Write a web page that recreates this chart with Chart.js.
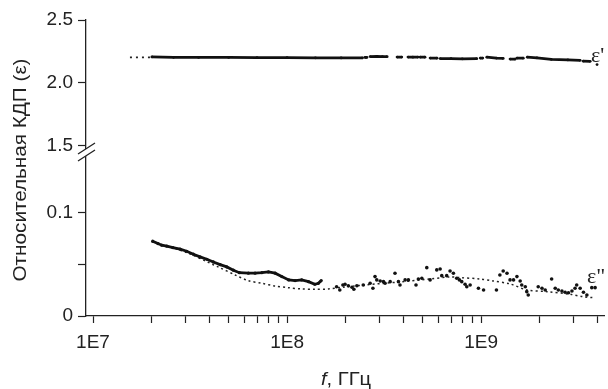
<!DOCTYPE html>
<html lang="ru">
<head>
<meta charset="utf-8">
<title>Относительная КДП</title>
<style>
    html, body { margin: 0; padding: 0; background: #fff; }
    #wrap { width: 608px; height: 389px; position: relative; }
</style>
</head>
<body>
<div id="wrap"><canvas id="myChart"></canvas></div>
<script src="https://cdn.jsdelivr.net/npm/chart.js@4.4.0/dist/chart.umd.min.js"></script>
<script>
    // ось X (частота), логарифмическая
    var xTickValues = [1e7, 2e7, 3e7, 4e7, 5e7, 6e7, 7e7, 8e7, 9e7,
        1e8, 2e8, 3e8, 4e8, 5e8, 6e8, 7e8, 8e8, 9e8,
        1e9, 2e9, 3e9, 4e9];
    var xTickLabels = ['1E7', '', '', '', '', '', '', '', '',
        '1E8', '', '', '', '', '', '', '', '',
        '1E9', '', '', ''];
    // разорванная ось Y
    var yTopTicks = [1.5, 1.75, 2.0, 2.25, 2.5];
    var yTopLabels = ['1.5', '', '2.0', '', '2.5'];
    var yBotTicks = [0, 0.05, 0.1];
    var yBotLabels = ['0', '', '0.1'];

    // ε' (null = разрыв в данных)
    var epsPrimeF = [2.01e7, 2.6e7, 3.5e7, 5e7, 7e7, 1.0e8, 1.4e8, 1.9e8, 2.45e8, 2.49e8,
        2.52e8, 2.58e8, 2.63e8, 2.68e8, 2.9e8, 3.1e8, 3.28e8, 3.5e8, 3.69e8, 3.9e8, 4.05e8,
        4.2e8, 4.45e8, 4.73e8, 4.8e8, 4.85e8, 5.14e8, 5.3e8, 5.46e8, 5.93e8, 6.05e8,
        6.15e8, 7e8, 8e8, 9.5e8, 9.7e8, 9.9e8, 1.02e9, 1.05e9, 1.07e9, 1.2e9, 1.3e9, 1.36e9,
        1.41e9, 1.5e9, 1.52e9, 1.53e9, 1.65e9, 1.69e9, 1.73e9, 1.94e9, 2.3e9, 2.8e9, 3.24e9, 3.3e9,
        3.36e9, 3.65e9, 3.8e9, 3.96e9];
    var epsPrimeV = [2.207, 2.204, 2.203, 2.203, 2.202, 2.201, 2.200, 2.199, 2.200, null,
        2.203, 2.203, null, 2.210, 2.211, 2.210, 2.209, null, 2.206, 2.206, null,
        2.206, 2.205, 2.206, null, 2.205, 2.205, null, 2.198, 2.197, null,
        2.194, 2.193, 2.192, 2.193, null, 2.198, 2.198, null, 2.205, 2.198, 2.195, null,
        2.190, 2.190, null, 2.198, 2.197, null, 2.205, 2.200, 2.188, 2.183, 2.180, null,
        2.173, 2.172, null, 2.146];
    var epsPrimeFitF = [1.55e7, 2.05e7];
    var epsPrimeFitV = [2.203, 2.203];

    // ε'' — плотный участок
    var eps2DenseF = [2.03e7, 2.16e7, 2.26e7, 2.40e7, 2.58e7, 2.81e7, 3.04e7, 3.29e7, 3.56e7,
        3.86e7, 4.17e7, 4.52e7, 4.89e7, 5.29e7, 5.68e7, 6.32e7, 6.84e7, 7.41e7, 8.02e7,
        8.68e7, 9.39e7, 1.02e8, 1.10e8, 1.19e8, 1.29e8, 1.39e8, 1.45e8, 1.50e8];
    var eps2DenseV = [0.0725, 0.0702, 0.0686, 0.0677, 0.0663, 0.0648, 0.0628, 0.0599, 0.0573,
        0.0550, 0.0524, 0.0498, 0.0476, 0.0444, 0.0420, 0.0415, 0.0415, 0.0420, 0.0427,
        0.0415, 0.0382, 0.0350, 0.0343, 0.0350, 0.0333, 0.0308, 0.0317, 0.0343];
    // ε'' — отдельные точки
    var eps2PtsF = [1.80e8, 1.87e8, 1.94e8, 1.99e8, 2.07e8, 2.16e8, 2.21e8, 2.29e8, 2.47e8,
        2.68e8, 2.77e8, 2.84e8, 2.90e8, 3.02e8, 3.14e8, 3.20e8, 3.40e8, 3.60e8, 3.75e8,
        3.82e8, 4.06e8, 4.22e8, 4.62e8, 4.75e8, 4.95e8, 5.25e8, 5.46e8, 5.91e8, 6.15e8,
        6.27e8, 6.65e8, 6.92e8, 7.20e8, 7.49e8, 7.73e8, 7.95e8, 8.27e8, 8.44e8, 8.78e8,
        9.69e8, 1.03e9, 1.20e9, 1.25e9, 1.30e9, 1.36e9, 1.41e9, 1.47e9, 1.53e9, 1.59e9,
        1.62e9, 1.69e9, 1.72e9, 1.75e9, 1.97e9, 2.06e9, 2.14e9, 2.31e9, 2.41e9, 2.50e9,
        2.61e9, 2.71e9, 2.82e9, 2.94e9, 3.05e9, 3.11e9, 3.24e9, 3.37e9, 3.51e9, 3.72e9, 3.87e9];
    var eps2PtsV = [0.0284, 0.0252, 0.0301, 0.0308, 0.0294, 0.0279, 0.0259, 0.0294, 0.0301,
        0.0317, 0.0269, 0.0382, 0.0350, 0.0340, 0.0333, 0.0317, 0.0333, 0.0415, 0.0333,
        0.0301, 0.0350, 0.0350, 0.0301, 0.0359, 0.0366, 0.0469, 0.0350, 0.0447, 0.0456,
        0.0391, 0.0391, 0.0437, 0.0415, 0.0366, 0.0350, 0.0333, 0.0308, 0.0284, 0.0301,
        0.0269, 0.0252, 0.0252, 0.0398, 0.0437, 0.0415, 0.0350, 0.0350, 0.0382, 0.0340,
        0.0301, 0.0284, 0.0236, 0.0204, 0.0284, 0.0269, 0.0252, 0.0359, 0.0269, 0.0252,
        0.0243, 0.0230, 0.0226, 0.0243, 0.0269, 0.0301, 0.0269, 0.0230, 0.0204, 0.0275, 0.0275];
    // ε'' — аппроксимация (пунктир)
    var eps2FitF = [2.0e7, 2.98e7, 4.41e7, 5.4e7, 6.3e7, 7.43e7, 8.67e7, 1.01e8, 1.19e8, 1.39e8,
        1.63e8, 1.99e8, 2.52e8, 3.82e8, 5.46e8, 6.92e8, 7.8e8, 9.9e8, 1.15e9, 1.41e9,
        1.73e9, 2.19e9, 2.87e9, 3.36e9, 3.78e9];
    var eps2FitV = [0.0723, 0.0621, 0.0476, 0.0398, 0.0343, 0.0317, 0.0291, 0.0275, 0.0262, 0.0259,
        0.0262, 0.0282, 0.0301, 0.0330, 0.0359, 0.0379, 0.0372, 0.0359, 0.0340, 0.0311,
        0.0252, 0.0236, 0.0211, 0.0187, 0.0178];

    function pairs(fs, vs) {
        return fs.map(function (f, i) { return { x: f, y: vs[i] }; });
    }

    var ink = '#111';
    var fontSans = 'Liberation Sans';

    // разрыв оси, подписи осей и кривых
    var decorPlugin = {
        id: 'decor',
        afterDraw: function (chart) {
            var ctx = chart.ctx;
            var ax = chart.scales.x.left;
            var yB = chart.scales.yBot.top;
            ctx.save();
            // знак разрыва «//»
            ctx.fillStyle = '#fff';
            ctx.beginPath();
            ctx.moveTo(ax - 8, yB + 2);
            ctx.lineTo(ax + 9, yB - 9);
            ctx.lineTo(ax + 9, yB - 2);
            ctx.lineTo(ax - 8, yB + 9);
            ctx.closePath();
            ctx.fill();
            ctx.strokeStyle = '#222';
            ctx.lineWidth = 1.3;
            ctx.beginPath();
            ctx.moveTo(ax - 8, yB + 2); ctx.lineTo(ax + 9, yB - 9);
            ctx.moveTo(ax - 8, yB + 9); ctx.lineTo(ax + 9, yB - 2);
            ctx.stroke();

            ctx.fillStyle = '#222';
            // подпись оси Y
            ctx.save();
            ctx.translate(21, (chart.chartArea.top + chart.chartArea.bottom) / 2 + 2);
            ctx.rotate(-Math.PI / 2);
            ctx.scale(1.15, 1);
            ctx.font = '18px "' + fontSans + '"';
            ctx.textAlign = 'center';
            ctx.textBaseline = 'middle';
            ctx.fillText('Относительная КДП (ε)', 0, 0);
            ctx.restore();

            // подпись оси X: курсивная f
            ctx.save();
            ctx.textBaseline = 'alphabetic';
            ctx.textAlign = 'left';
            ctx.font = 'italic 18px "' + fontSans + '"';
            var w1 = ctx.measureText('f').width;
            ctx.font = '18px "' + fontSans + '"';
            var w2 = ctx.measureText(', ГГц').width;
            var sx = 1.12;
            var x0 = 346 - (w1 + w2) * sx / 2;
            ctx.translate(x0, 385);
            ctx.scale(sx, 1);
            ctx.font = 'italic 18px "' + fontSans + '"';
            ctx.fillText('f', 0, 0);
            ctx.font = '18px "' + fontSans + '"';
            ctx.fillText(', ГГц', w1, 0);
            ctx.restore();

            // ε' и ε''
            ctx.font = '22px "Liberation Serif"';
            ctx.textAlign = 'left';
            ctx.textBaseline = 'alphabetic';
            ctx.fillText("ε'", 591, 62);
            ctx.fillText('ε"', 587, 283);
            ctx.restore();
        }
    };

    var tickFont = { family: fontSans, size: 19 };

    var ctx = document.getElementById('myChart').getContext('2d');
    var myChart = new Chart(ctx, {
        type: 'line',
        data: {
            datasets: [{
                label: "ε'",
                data: pairs(epsPrimeF, epsPrimeV),
                yAxisID: 'yTop',
                borderColor: ink,
                backgroundColor: ink,
                borderWidth: 2.8,
                pointRadius: 1.4,
                pointBorderWidth: 0,
                spanGaps: false
            }, {
                label: "ε''",
                data: pairs(eps2DenseF, eps2DenseV),
                yAxisID: 'yBot',
                borderColor: ink,
                backgroundColor: ink,
                borderWidth: 2.8,
                pointRadius: 1.6,
                pointBorderWidth: 0
            }, {
                label: "ε'' точки",
                data: pairs(eps2PtsF, eps2PtsV),
                yAxisID: 'yBot',
                showLine: false,
                backgroundColor: ink,
                borderColor: ink,
                pointRadius: 1.8,
                pointBorderWidth: 0
            }, {
                label: "ε' аппрокс.",
                data: pairs(epsPrimeFitF, epsPrimeFitV),
                yAxisID: 'yTop',
                borderColor: '#222',
                borderWidth: 1.6,
                borderDash: [2, 4],
                pointRadius: 0
            }, {
                label: "ε'' аппрокс.",
                data: pairs(eps2FitF, eps2FitV),
                yAxisID: 'yBot',
                borderColor: '#222',
                borderWidth: 1.5,
                borderDash: [2, 3],
                pointRadius: 0,
                tension: 0.3
            }]
        },
        options: {
            responsive: true,
            maintainAspectRatio: false,
            animation: false,
            devicePixelRatio: 1,
            layout: { padding: { left: 0, right: 4, top: 20, bottom: 0 } },
            plugins: { legend: { display: false }, tooltip: { enabled: false } },
            scales: {
                x: {
                    type: 'logarithmic',
                    position: 'bottom',
                    min: 9.2e6,
                    max: 4.3e9,
                    afterBuildTicks: function (s) { s.ticks = xTickValues.map(function (v) { return { value: v }; }); },
                    afterFit: function (s) { s.height = 73; },
                    ticks: {
                        autoSkip: false, maxRotation: 0, minRotation: 0, padding: 8,
                        color: '#222', font: tickFont,
                        callback: function (v, i) { return xTickLabels[i]; }
                    },
                    grid: { drawOnChartArea: false, drawTicks: true, tickLength: 7, color: '#222', tickWidth: 1.2 },
                    border: { display: true, color: '#222', width: 1.3 }
                },
                // нижняя часть объявлена первой: в стопке слева порядок обратный
                yBot: {
                    type: 'linear',
                    position: 'left',
                    stack: 'y',
                    stackWeight: 164,
                    min: 0,
                    max: 0.159,
                    afterBuildTicks: function (s) { s.ticks = yBotTicks.map(function (v) { return { value: v }; }); },
                    afterFit: function (s) { s.width = 86; },
                    ticks: {
                        padding: 5, color: '#222', font: tickFont,
                        callback: function (v, i) { return yBotLabels[i]; }
                    },
                    grid: { drawOnChartArea: false, drawTicks: true, tickLength: 8, color: '#222', tickWidth: 1.2 },
                    border: { display: true, color: '#222', width: 1.3 }
                },
                yTop: {
                    type: 'linear',
                    position: 'left',
                    stack: 'y',
                    stackWeight: 132,
                    min: 1.452,
                    max: 2.5,
                    afterBuildTicks: function (s) { s.ticks = yTopTicks.map(function (v) { return { value: v }; }); },
                    afterFit: function (s) { s.width = 86; },
                    ticks: {
                        padding: 5, color: '#222', font: tickFont,
                        callback: function (v, i) { return yTopLabels[i]; }
                    },
                    grid: { drawOnChartArea: false, drawTicks: true, tickLength: 8, color: '#222', tickWidth: 1.2 },
                    border: { display: true, color: '#222', width: 1.3 }
                }
            }
        },
        plugins: [decorPlugin]
    });
</script>
</body>
</html>
